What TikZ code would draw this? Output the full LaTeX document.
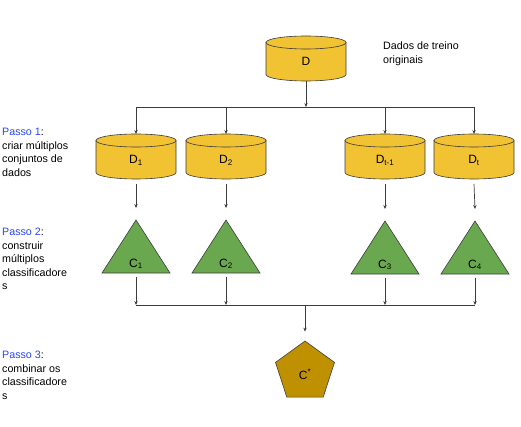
\documentclass[tikz,border=0pt]{standalone}
\usepackage{fontspec}
\setmainfont{Liberation Sans}
\usetikzlibrary{shapes.geometric,arrows.meta}

\definecolor{drumgold}{HTML}{F1C232}
\definecolor{clfgreen}{HTML}{6AA84F}
\definecolor{combgold}{HTML}{BF9000}
\definecolor{edgegray}{HTML}{3C3C3C}
\definecolor{stepblue}{RGB}{40,70,250}

% data set drawn as a cylinder: name, centre x, top y, label
\newcommand\dbdrum[4]{%
  \path[drumface] (#2-40,#3+6.5) -- (#2-40,#3+38.5)
    arc[start angle=180,end angle=360,x radius=40pt,y radius=6.5pt]
    -- (#2+40,#3+6.5) -- cycle;
  \path[drumface] (#2,#3+6.5) ellipse[x radius=40pt,y radius=6.5pt];
  \node[shapelabel] (#1) at (#2,#3+30) {#4};
  \coordinate (#1-in) at (#2,#3);
  \coordinate (#1-out) at (#2,#3+50);
}
% classifier drawn as a triangle: name, centre x, apex y, label
\newcommand\clftri[4]{%
  \path[triface] (#2,#3) -- (#2+34,#3+53) -- (#2-34,#3+53) -- cycle;
  \node[shapelabel] (#1) at (#2,#3+47) {#4};
  \coordinate (#1-in) at (#2,#3-12);
  \coordinate (#1-out) at (#2,#3+57);
}

\begin{document}
\begin{tikzpicture}[x=1pt,y=-1pt,
  drumface/.style={fill=drumgold,draw=edgegray,line width=0.6pt},
  triface/.style={fill=clfgreen,draw=edgegray,line width=0.6pt},
  shapelabel/.style={anchor=base,inner sep=0pt,font=\fontsize{12}{14}\selectfont},
  steptext/.style={anchor=north west,inner sep=0pt,align=left,
    font=\fontsize{10.7}{13.5}\selectfont},
  conn/.style={draw=edgegray,line width=0.7pt},
  arr/.style={conn,-{Stealth[length=4pt,width=3.4pt]}}]
\useasboundingbox (0,0) rectangle (521,427);

% original training data
\dbdrum{d0}{306}{36}{D}
\coordinate (d0-bottom) at (306,81);
\node[steptext] (origtxt) at (383,42) {Dados de treino\\originais};

% step 1: several data sets
\dbdrum{d1}{136}{134}{D\textsubscript{1}}
\dbdrum{d2}{226}{134}{D\textsubscript{2}}
\dbdrum{d3}{385}{134}{D\textsubscript{t-1}}
\dbdrum{d4}{474}{134}{D\textsubscript{t}}

% step 2: several classifiers
\clftri{c1}{136}{220}{C\textsubscript{1}}
\clftri{c2}{226}{220}{C\textsubscript{2}}
\clftri{c3}{385}{221}{C\textsubscript{3}}
\clftri{c4}{475}{221}{C\textsubscript{4}}

% step 3: combined classifier
\node[regular polygon,regular polygon sides=5,minimum size=62pt,inner sep=0pt,
  fill=combgold,draw=edgegray,line width=0.6pt] (cstar) at (305,372) {};
\node[shapelabel] (cstarlbl) at (305,379) {C\textsuperscript{*}};

% step descriptions
\node[steptext] (step1) at (2,128) {\textcolor{stepblue}{Passo 1}:\\criar múltiplos\\conjuntos de\\dados};
\node[steptext] (step2) at (2,228) {\textcolor{stepblue}{Passo 2}:\\construir\\múltiplos\\classificadore\\s};
\node[steptext] (step3) at (2,351) {\textcolor{stepblue}{Passo 3}:\\combinar os\\classificadore\\s};

% distribution bus
\coordinate (bus1) at (306,107);
\draw[arr] (d0-bottom) -- (bus1);
\draw[conn] (d1-in |- bus1) -- (d4-in |- bus1);
\foreach \d in {d1,d2,d3,d4}
  \draw[arr] (\d-in |- bus1) -- (\d-in);

% data sets feed the classifiers
\draw[arr] (d1-out) -- (c1-in);
\draw[arr] (d2-out) -- (c2-in);
\draw[arr] (d3-out) -- (c3-in);
\draw[arr] (d4-out) -- (c4-in);

% collection bus
\coordinate (bus2) at (305,305);
\foreach \c in {c1,c2,c3,c4}
  \draw[arr] (\c-out) -- (\c-out |- bus2);
\draw[conn] (c1-out |- bus2) -- (c4-out |- bus2);
\draw[arr,shorten >=9pt] (bus2) -- (cstar.north);
\end{tikzpicture}
\end{document}
